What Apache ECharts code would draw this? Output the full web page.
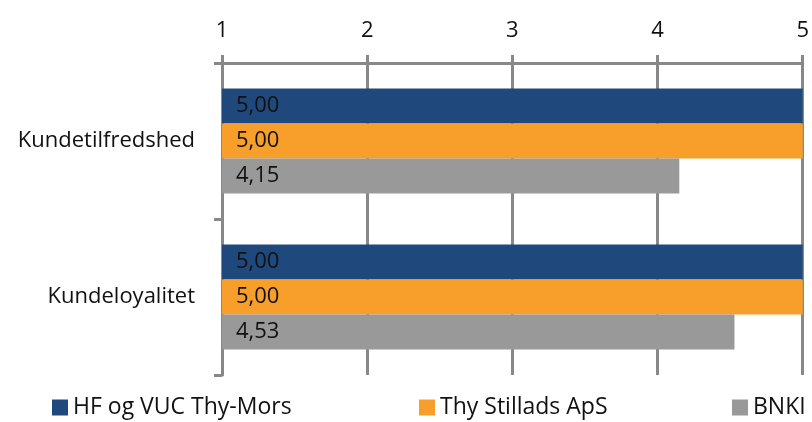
<!DOCTYPE html>
<html>
<head>
<meta charset="utf-8">
<script src="https://cdn.jsdelivr.net/npm/echarts@6/dist/echarts.min.js"></script>
<style>
  html, body { margin: 0; padding: 0; background: #fff; }
  #c { width: 812px; height: 422px; }
</style>
</head>
<body>
<div id="c"></div>
<script>
const categories = ['Kundetilfredshed', 'Kundeloyalitet']
const seriesNames = ['HF og VUC Thy-Mors', 'Thy Stillads ApS', 'BNKI']
const hfValues = [5.00, 5.00]
const thyValues = [5.00, 5.00]
const bnkiValues = [4.15, 4.53]
const tickMin = 1
const tickMax = 5

const colors = ['#1F497D', '#F79F2A', '#999999']
const font = 'Open Sans'
const gridColor = '#888888'

const label = {
  show: true,
  position: 'insideLeft',
  distance: 14,
  color: '#111',
  fontSize: 22,
  fontFamily: font,
  formatter: p => p.value.toFixed(2).replace('.', ','),
}

function bar(name, data, color) {
  return {
    name,
    type: 'bar',
    data,
    barWidth: 35,
    barGap: '0%',
    itemStyle: { color },
    label,
  }
}

const legendLeft = [52, 419, 732]

const option = {
  animation: false,
  color: colors,
  grid: { left: 222, right: 4, top: 63, bottom: 47 },
  legend: seriesNames.map((n, i) => ({
    data: [n],
    left: legendLeft[i],
    top: 396,
    padding: 0,
    icon: 'rect',
    itemWidth: 16,
    itemHeight: 16,
    textStyle: { fontSize: 23, fontFamily: font, color: '#111' },
  })),
  xAxis: {
    type: 'value',
    position: 'top',
    min: tickMin,
    max: tickMax,
    interval: 1,
    startValue: tickMin,
    axisLine: { show: true, lineStyle: { color: gridColor, width: 3 } },
    axisTick: { show: true, length: 8, lineStyle: { color: gridColor, width: 3 } },
    splitLine: { show: true, lineStyle: { color: gridColor, width: 3 } },
    axisLabel: { color: '#111', fontSize: 22, fontFamily: font, margin: 21 },
  },
  yAxis: {
    type: 'category',
    inverse: true,
    data: categories,
    axisLine: { show: true, lineStyle: { color: gridColor, width: 3 } },
    axisTick: { show: true, length: 8, lineStyle: { color: gridColor, width: 3 } },
    axisLabel: { color: '#111', fontSize: 22, fontFamily: font, margin: 27 },
  },
  series: [
    bar(seriesNames[0], hfValues, colors[0]),
    bar(seriesNames[1], thyValues, colors[1]),
    bar(seriesNames[2], bnkiValues, colors[2]),
  ],
}

const chart = echarts.init(document.getElementById('c'))
chart.setOption(option)
</script>
</body>
</html>
